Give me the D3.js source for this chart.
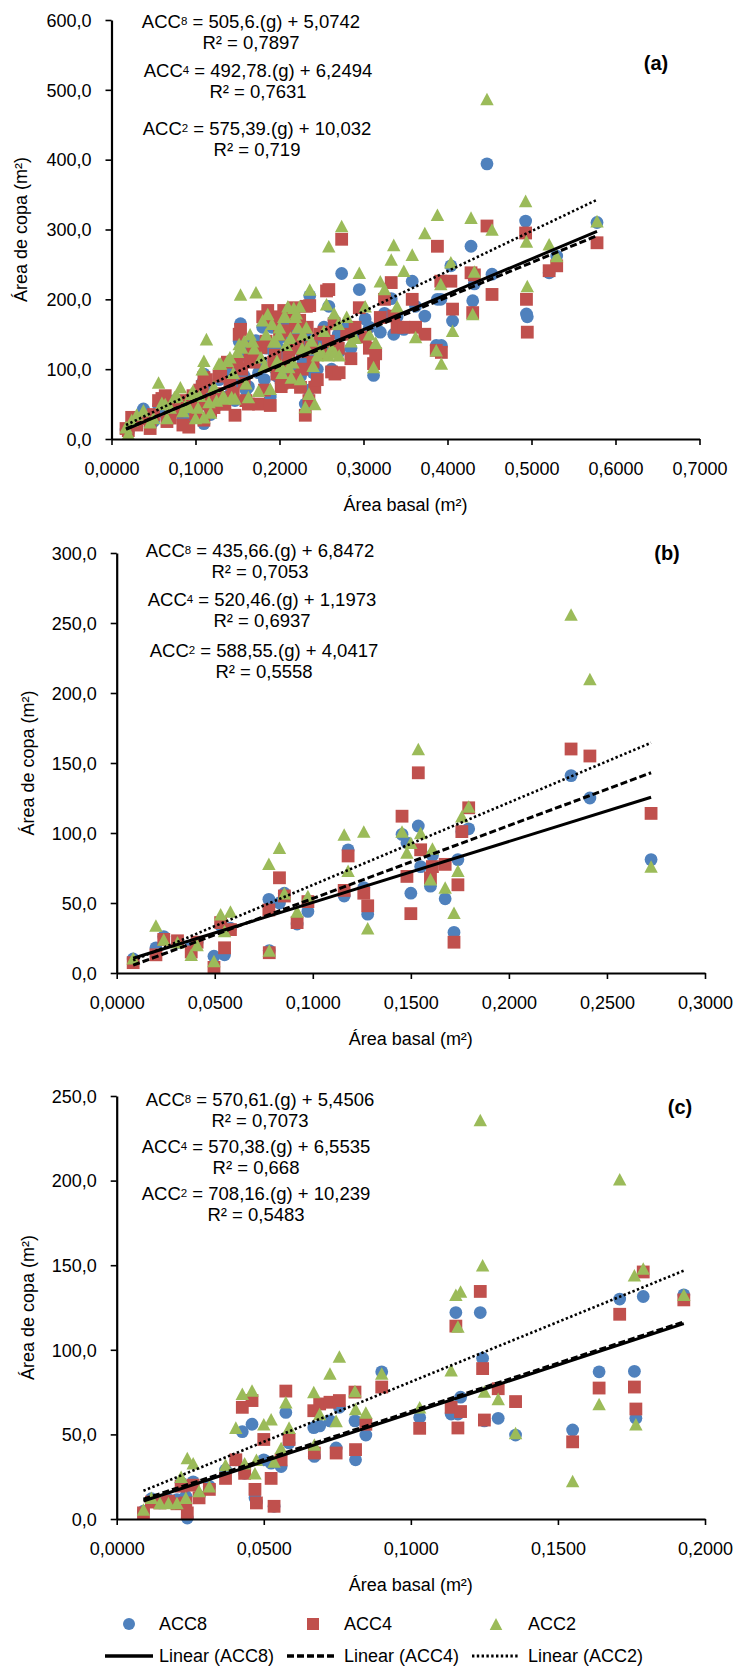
<!DOCTYPE html>
<html><head><meta charset="utf-8">
<script src="https://cdn.jsdelivr.net/npm/d3@7"></script>
<style>
body{margin:0;background:#fff;}
svg text{font-family:"Liberation Sans",Arial,Helvetica,sans-serif;fill:#000;}
</style></head><body>
<svg id="chart" width="736" height="1671"></svg>
<script>
// ---- series names and colours ----
const seriesNames = ["ACC8", "ACC4", "ACC2"];
const seriesColors = ["#4F81BD", "#C0504D", "#9BBB59"];

// ---- panel (a): basal area (m²) and crown area (m²) per tree ----
const basalA = [0.0173,0.020,0.024,0.030,0.038,0.046,0.050,0.056,0.060,0.064,0.066,0.070,0.075,0.078,0.082,0.085,0.088,0.092,0.095,0.097,0.100,0.103,0.105,0.108,0.110,0.110,0.113,0.116,0.118,0.122,0.125,0.128,0.130,0.133,0.135,0.138,0.141,0.143,0.145,0.147,0.150,0.152,0.1536,0.155,0.158,0.160,0.163,0.165,0.168,0.170,0.172,0.175,0.178,0.180,0.182,0.184,0.186,0.189,0.191,0.193,0.195,0.197,0.199,0.200,0.202,0.203,0.205,0.207,0.208,0.210,0.211,0.213,0.214,0.216,0.217,0.219,0.220,0.222,0.224,0.225,0.227,0.228,0.2307,0.232,0.233,0.235,0.236,0.238,0.240,0.242,0.245,0.248,0.249,0.253,0.256,0.258,0.2587,0.262,0.265,0.266,0.270,0.271,0.274,0.280,0.285,0.290,0.295,0.302,0.307,0.312,0.3145,0.320,0.325,0.333,0.336,0.340,0.348,0.358,0.362,0.373,0.3866,0.388,0.392,0.3927,0.404,0.406,0.428,0.430,0.432,0.447,0.453,0.493,0.494,0.495,0.521,0.530,0.578];
const acc8A = [13,10,22,30,43,18,25,48,45,36,28,40,55,50,45,28,38,30,45,58,40,60,50,80,22,93,70,46,35,60,48,85,95,60,55,95,100,70,75,55,85,140,165,120,90,70,75,130,140,120,141,95,110,160,85,130,167,60,160,125,100,90,130,145,80,100,165,150,120,175,95,140,85,100,170,155,150,130,170,90,120,110,50,145,140,70,205,120,95,77,100,140,129,160,140,130,190,100,170,127,150,125,237,160,130,150,214,172,160,91,125,153,180,201,150,175,157,226,190,176,134,200,200,134,248,169,276,198,222,394,236,312,179,175,238,262,310];
const acc4A = [15,12,31,20,29,15,35,55,58,62,25,30,48,40,50,20,55,17,55,62,36,50,70,75,27,88,85,55,40,45,65,90,93,50,50,110,80,60,65,34,110,150,157,100,80,55,50,115,130,110,122,50,131,175,70,140,184,48,170,110,120,93,175,150,75,80,184,155,105,175,117,130,81,90,188,165,140,141,170,74,100,125,34,190,160,55,191,131,110,74,85,150,122,153,212,140,214,96,165,93,130,95,286,150,115,160,188,146,130,108,122,174,200,224,176,160,160,200,160,150,127,276,226,124,226,186,238,181,235,305,207,295,200,153,241,248,281];
const acc2A = [17,8,27,35,41,24,30,81,52,50,30,45,60,62,74,40,48,46,65,69,30,45,62,100,31,112,143,53,38,75,55,108,108,62,58,112,117,60,95,58,125,136,207,131,140,80,60,150,140,130,210,69,117,170,105,150,179,72,165,140,140,112,150,160,105,95,175,175,135,190,103,145,88,110,188,175,180,160,190,86,130,150,46,160,130,65,214,141,105,50,120,130,124,155,193,120,276,130,180,124,165,120,305,175,140,145,238,190,150,103,138,226,215,257,278,190,241,264,146,295,127,321,222,108,253,155,317,179,240,487,300,341,283,219,279,262,312];
const fitA = [["8","505,6","5,0742","0,7897"],["4","492,78","6,2494","0,7631"],["2","575,39","10,032","0,719"]];
const xTicksA = [0,0.1,0.2,0.3,0.4,0.5,0.6,0.7];
const yTicksA = [0,100,200,300,400,500,600];

// ---- panel (b) ----
const basalB = [0.0084,0.020,0.024,0.031,0.038,0.041,0.0496,0.053,0.055,0.058,0.0776,0.0778,0.083,0.0855,0.092,0.0975,0.116,0.118,0.126,0.128,0.1455,0.148,0.150,0.1538,0.155,0.160,0.161,0.1675,0.172,0.174,0.176,0.1795,0.2317,0.2413,0.2725];
const acc8B = [10,18,26,21.7,19,22,12,34,13,32,52.6,16,50,57,35,44,55,88,61,42,99,93,57,105,76,62,84,53,29,81,101,103,141,125,81];
const acc4B = [7.4,13,24,23,15,22,4,36,18,31,45,14.5,68,55,36,51,59,83.6,57,48,112,69,42.4,143,88,68,76,77.6,22,63,101,118,160,155,114];
const acc2B = [10.5,34,24,22,13,20,8.6,42,30,44,78,16,89.5,57,44,55,99,73,101,32,101,86,93,160,100,67,89,61,43,73,112,119,256,210,76];
const fitB = [["8","435,66","6,8472","0,7053"],["4","520,46","1,1973","0,6937"],["2","588,55","4,0417","0,5558"]];
const xTicksB = [0,0.05,0.1,0.15,0.2,0.25,0.3];
const yTicksB = [0,50,100,150,200,250,300];

// ---- panel (c) ----
const basalC = [0.0091,0.0118,0.0147,0.0176,0.0205,0.0219,0.0235,0.024,0.026,0.028,0.0315,0.037,0.0405,0.0427,0.0435,0.046,0.047,0.0475,0.050,0.0525,0.0535,0.0559,0.0575,0.0586,0.067,0.0672,0.069,0.0725,0.0746,0.0757,0.081,0.0812,0.0847,0.0901,0.103,0.1137,0.1153,0.116,0.1169,0.1236,0.1244,0.125,0.1297,0.1356,0.155,0.164,0.171,0.176,0.1765,0.179,0.1928];
const acc8C = [4.6,12,9.5,11.5,11.5,21.4,13.5,0.6,22,13.5,19.4,29,35,51.6,27,56,12.5,10,35,33,7.5,31,63,45,54,37,55,58,42,66,58,35,49.6,87,60,62,122,62,72,122,95,58,59.5,49.6,52.6,87,130,87.3,59.5,131.5,132.5];
const acc4C = [3.6,10,9.5,10.5,9,19.4,9.5,3.6,20,12.5,17.5,24,35,66,27,70,17.5,9.5,47,24,7.5,35,75.6,47,64,39,68,69,39,70,75,41,56,78,53.6,66,114,53.8,63.5,134.5,88.9,58.5,77,69.4,45.6,77.4,121,78,65,146,129.5];
const acc2C = [5.6,12.5,9.5,9.5,9.5,25,12.5,36,33,16.5,19.4,32,54,74,33,76,27,35,56,59,34,42,69,54,75,44,62,86,58,96,75.6,65,63,86,66,88,132.5,113.8,134.5,235.8,150,75.4,71,50.8,22.4,68,200.8,144,56,148,132.5];
const fitC = [["8","570,61","5,4506","0,7073"],["4","570,38","6,5535","0,668"],["2","708,16","10,239","0,5483"]];
const xTicksC = [0,0.05,0.1,0.15,0.2];
const yTicksC = [0,50,100,150,200,250];

// ---- layout of the three panels ----
const panels = [
  {tag:"(a)", g:basalA, ys:[acc8A,acc4A,acc2A], fit:fitA, xTicks:xTicksA, yTicks:yTicksA,
   left:111.5, right:699.5, top:20, bottom:439, yLabX:21, tagX:656, tagY:63,
   eqX:[251,258,257], eqY:[21,70,128]},
  {tag:"(b)", g:basalB, ys:[acc8B,acc4B,acc2B], fit:fitB, xTicks:xTicksB, yTicks:yTicksB,
   left:116.7, right:705, top:553, bottom:973, yLabX:28, tagX:667, tagY:553,
   eqX:[260,262,264], eqY:[550,599,650]},
  {tag:"(c)", g:basalC, ys:[acc8C,acc4C,acc2C], fit:fitC, xTicks:xTicksC, yTicks:yTicksC,
   left:116.7, right:705, top:1096, bottom:1519, yLabX:28, tagX:680, tagY:1107,
   eqX:[260,256,256], eqY:[1099,1146,1193]}
];

const svg = d3.select("#chart");
const FS = 18;
const num = s => +s.replace(",", ".");
const fmtY = d => d3.format(".1f")(d).replace(".", ",");
const fmtX = d => d3.format(".4f")(d).replace(".", ",");
const lineStyles = [
  {w:3, dash:null},
  {w:3, dash:"7,3"},
  {w:2.6, dash:"2.4,2.4"}
];

function marker(sel, i, size) {
  const h = size / 2;
  if (i === 0) {
    return sel.append("circle").attr("r", h);
  } else if (i === 1) {
    return sel.append("rect").attr("x", -h).attr("y", -h).attr("width", size).attr("height", size);
  }
  const tw = size * 1.05, th = size * 0.98;
  return sel.append("path").attr("d", `M0,${-th/2}L${tw/2},${th/2}L${-tw/2},${th/2}Z`);
}

panels.forEach(p => {
  const x = d3.scaleLinear().domain([p.xTicks[0], p.xTicks[p.xTicks.length - 1]]).range([p.left, p.right]);
  const y = d3.scaleLinear().domain([p.yTicks[0], p.yTicks[p.yTicks.length - 1]]).range([p.bottom, p.top]);
  const g = svg.append("g");

  // markers, series drawn in order so later ones sit on top
  p.ys.forEach((vals, si) => {
    const layer = g.append("g").attr("fill", seriesColors[si]);
    vals.forEach((v, k) => {
      const m = layer.append("g").attr("transform", `translate(${x(p.g[k])},${y(v)})`);
      marker(m, si, 12.8);
    });
  });

  // linear trendlines from the fitted equations
  const [gMin, gMax] = d3.extent(p.g);
  p.fit.forEach((f, si) => {
    const a = num(f[1]), b = num(f[2]);
    const pts = [gMin, gMax].map(v => [x(v), y(a * v + b)]);
    const st = lineStyles[si];
    g.append("path").attr("d", d3.line()(pts))
      .attr("fill", "none").attr("stroke", "#000").attr("stroke-width", st.w)
      .attr("stroke-dasharray", st.dash);
  });

  // axes
  const ax = g.append("g").attr("transform", `translate(0,${p.bottom})`)
    .call(d3.axisBottom(x).tickValues(p.xTicks).tickFormat(fmtX).tickSize(6).tickSizeOuter(0));
  ax.selectAll("text").attr("y", 30).attr("dy", "0.35em").style("font-size", FS + "px");
  const ay = g.append("g").attr("transform", `translate(${p.left},0)`)
    .call(d3.axisLeft(y).tickValues(p.yTicks).tickFormat(fmtY).tickSize(6).tickSizeOuter(0));
  ay.selectAll("text").attr("x", -20).attr("dy", "0.35em").style("font-size", FS + "px");
  [ax, ay].forEach(a => {
    a.attr("font-family", null);
    a.select(".domain").attr("stroke", "#000").attr("stroke-width", 2.2);
    a.selectAll(".tick line").attr("stroke", "#000").attr("stroke-width", 1.6);
  });

  // axis titles
  g.append("text").attr("x", (p.left + p.right) / 2).attr("y", p.bottom + 66)
    .attr("text-anchor", "middle").attr("dominant-baseline", "central")
    .style("font-size", FS + "px").text("Área basal (m²)");
  g.append("text").attr("transform", `translate(${p.yLabX},${(p.top + p.bottom) / 2}) rotate(-90)`)
    .attr("text-anchor", "middle").attr("dominant-baseline", "central")
    .style("font-size", FS + "px").text("Área de copa (m²)");

  // panel tag
  g.append("text").attr("x", p.tagX).attr("y", p.tagY)
    .attr("text-anchor", "middle").attr("dominant-baseline", "central")
    .style("font-size", "20px").style("font-weight", "bold").text(p.tag);

  // regression equations
  p.fit.forEach((f, i) => {
    const t = g.append("text").attr("x", p.eqX[i]).attr("y", p.eqY[i])
      .attr("text-anchor", "middle").attr("dominant-baseline", "central").style("font-size", "18.5px");
    t.append("tspan").text("ACC");
    t.append("tspan").style("font-size", "11.5px").text(f[0]);
    t.append("tspan").text(` = ${f[1]}.(g) + ${f[2]}`);
    g.append("text").attr("x", p.eqX[i]).attr("y", p.eqY[i] + 21)
      .attr("text-anchor", "middle").attr("dominant-baseline", "central").style("font-size", "18.5px")
      .text(`R² = ${f[3]}`);
  });
});

// ---- legend ----
const leg = svg.append("g");
const legX = [129, 313, 496];
const legTextX = [159, 344, 528];
const legLine = [[105, 153], [287, 337], [472, 520]];
seriesNames.forEach((name, i) => {
  const m = leg.append("g").attr("fill", seriesColors[i]).attr("transform", `translate(${legX[i]},1624)`);
  marker(m, i, 12);
  leg.append("text").attr("x", legTextX[i]).attr("y", 1624).attr("dominant-baseline", "central")
    .style("font-size", FS + "px").text(name);
  const st = lineStyles[i];
  leg.append("line").attr("x1", legLine[i][0]).attr("x2", legLine[i][1]).attr("y1", 1656).attr("y2", 1656)
    .attr("stroke", "#000").attr("stroke-width", st.w + 0.6).attr("stroke-dasharray", st.dash);
  leg.append("text").attr("x", legTextX[i]).attr("y", 1656).attr("dominant-baseline", "central")
    .style("font-size", FS + "px").text(`Linear (${name})`);
});
</script></body></html>
